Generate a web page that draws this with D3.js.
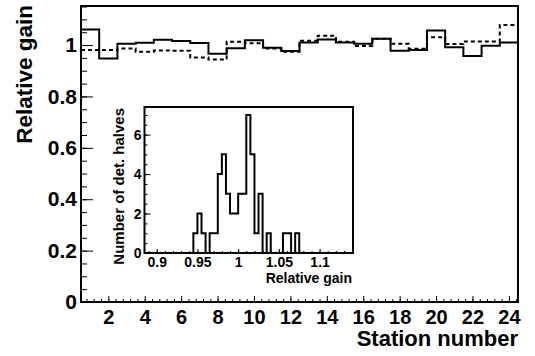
<!DOCTYPE html>
<html>
<head>
<meta charset="utf-8">
<script src="https://cdn.jsdelivr.net/npm/d3@7"></script>
<style>
  body { margin: 0; background: #fff; }
  svg text { font-family: "Liberation Sans", Arial, sans-serif; font-weight: bold; fill: #000; }
</style>
</head>
<body>
<svg id="chart" width="535" height="356"></svg>
<script>
// main histogram: relative gain per station, two detector halves
const stations = d3.range(1, 25)
const gainSolid = [1.061, 0.948, 1.005, 1.009, 1.021, 1.016, 1.008, 0.966, 0.988, 1.019, 0.990, 0.977,
	1.010, 1.022, 1.010, 1.005, 1.025, 0.978, 0.981, 1.057, 0.991, 0.957, 0.997, 1.010]
const gainDashed = [0.981, 0.981, 0.987, 0.974, 0.979, 0.978, 0.952, 0.944, 1.013, 1.007, 0.987, 0.974,
	1.017, 1.036, 1.013, 0.996, 1.025, 1.005, 0.986, 1.030, 1.004, 1.014, 1.014, 1.078]
const stationTicks = [2, 4, 6, 8, 10, 12, 14, 16, 18, 20, 22, 24]
const gainTicks = [0, 0.2, 0.4, 0.6, 0.8, 1]

// inset: distribution of relative gain
const binLow = 0.945
const binWidth = 0.005
const halvesCount = [1, 2, 1, 0, 1, 1, 4, 5, 3, 2, 2, 3, 3, 7, 5, 1, 3, 0, 1, 0, 0, 0, 1, 1, 0, 1]
const insetXTicks = [0.9, 0.95, 1, 1.05, 1.1]
const insetYTicks = [0, 2, 4, 6]

const svg = d3.select('#chart')

const L = 81, R = 518, T = 6, B = 302
const x = d3.scaleLinear().domain([0.5, 24.5]).range([L, R])
const y = d3.scaleLinear().domain([0, 1.152]).range([B, T])

// step outline for a histogram without end drops
function steps(vals) {
	const pts = []
	vals.forEach((v, i) => {
		pts.push([x(stations[i] - 0.5), y(v)])
		pts.push([x(stations[i] + 0.5), y(v)])
	})
	return d3.line()(pts)
}

// minor ticks
svg.append('g')
	.attr('transform', `translate(${L},0)`)
	.call(d3.axisLeft(y).tickValues(d3.range(0, 1.16, 0.05)).tickSize(-6).tickFormat(''))
svg.append('g')
	.attr('transform', `translate(0,${B})`)
	.call(d3.axisBottom(x).tickValues(d3.range(0.8, 24.5, 0.4)).tickSize(-3).tickFormat(''))

// major ticks with labels
svg.append('g')
	.attr('class', 'ay')
	.attr('transform', `translate(${L},0)`)
	.call(d3.axisLeft(y).tickValues(gainTicks).tickSize(-12).tickPadding(4).tickFormat(d => String(d)))
svg.append('g')
	.attr('class', 'ax')
	.attr('transform', `translate(0,${B})`)
	.call(d3.axisBottom(x).tickValues(stationTicks).tickSize(-6).tickPadding(8))

svg.selectAll('.domain').remove()
svg.selectAll('.tick line').attr('stroke', '#000').attr('stroke-width', 1)
svg.selectAll('.ay text').style('font-size', '21px')
svg.selectAll('.ax text').style('font-size', '20px')

// histograms
svg.append('path')
	.attr('d', steps(gainDashed))
	.attr('fill', 'none')
	.attr('stroke', '#000')
	.attr('stroke-width', 2)
	.attr('stroke-dasharray', '4,3')
svg.append('path')
	.attr('d', steps(gainSolid))
	.attr('fill', 'none')
	.attr('stroke', '#000')
	.attr('stroke-width', 2)

svg.append('rect')
	.attr('x', L).attr('y', T)
	.attr('width', R - L).attr('height', B - T)
	.attr('fill', 'none')
	.attr('stroke', '#000')
	.attr('stroke-width', 2)

svg.append('text')
	.attr('transform', `translate(32,${T - 1}) rotate(-90)`)
	.attr('text-anchor', 'end')
	.style('font-size', '22.5px')
	.text('Relative gain')
svg.append('text')
	.attr('x', 518).attr('y', 346)
	.attr('text-anchor', 'end')
	.style('font-size', '22px')
	.text('Station number')

// ---- inset ----
const iL = 144.5, iR = 353, iT = 107, iB = 253
const ix = d3.scaleLinear().domain([0.885, 1.141]).range([iL, iR])
const iy = d3.scaleLinear().domain([0, 7.4]).range([iB, iT])

const inset = svg.append('g')
inset.append('rect')
	.attr('x', iL).attr('y', iT)
	.attr('width', iR - iL).attr('height', iB - iT)
	.attr('fill', '#fff')

inset.append('g')
	.attr('transform', `translate(${iL},0)`)
	.call(d3.axisLeft(iy).tickValues(d3.range(0, 7.4, 0.5)).tickSize(-3).tickFormat(''))
inset.append('g')
	.attr('transform', `translate(0,${iB})`)
	.call(d3.axisBottom(ix).tickValues(d3.range(0.89, 1.141, 0.01)).tickSize(-2).tickFormat(''))
inset.append('g')
	.attr('class', 'iax')
	.attr('transform', `translate(${iL},0)`)
	.call(d3.axisLeft(iy).tickValues(insetYTicks).tickSize(-6).tickPadding(3))
inset.append('g')
	.attr('class', 'iax')
	.attr('transform', `translate(0,${iB})`)
	.call(d3.axisBottom(ix).tickValues(insetXTicks).tickSize(-4).tickPadding(4).tickFormat(d => String(d)))
inset.selectAll('.domain').remove()
inset.selectAll('.tick line').attr('stroke', '#000').attr('stroke-width', 1)
inset.selectAll('.iax text').style('font-size', '14px')

const hpts = [[ix(binLow), iy(0)]]
halvesCount.forEach((c, i) => {
	hpts.push([ix(binLow + i * binWidth), iy(c)])
	hpts.push([ix(binLow + (i + 1) * binWidth), iy(c)])
})
hpts.push([ix(binLow + halvesCount.length * binWidth), iy(0)])
inset.append('path')
	.attr('d', d3.line()(hpts))
	.attr('fill', 'none')
	.attr('stroke', '#000')
	.attr('stroke-width', 2)

inset.append('rect')
	.attr('x', iL).attr('y', iT)
	.attr('width', iR - iL).attr('height', iB - iT)
	.attr('fill', 'none')
	.attr('stroke', '#000')
	.attr('stroke-width', 2)

inset.append('text')
	.attr('transform', `translate(124,${iT + 1}) rotate(-90)`)
	.attr('text-anchor', 'end')
	.style('font-size', '15px')
	.text('Number of det. halves')
inset.append('text')
	.attr('x', iR - 1).attr('y', 283)
	.attr('text-anchor', 'end')
	.style('font-size', '14px')
	.text('Relative gain')
</script>
</body>
</html>
